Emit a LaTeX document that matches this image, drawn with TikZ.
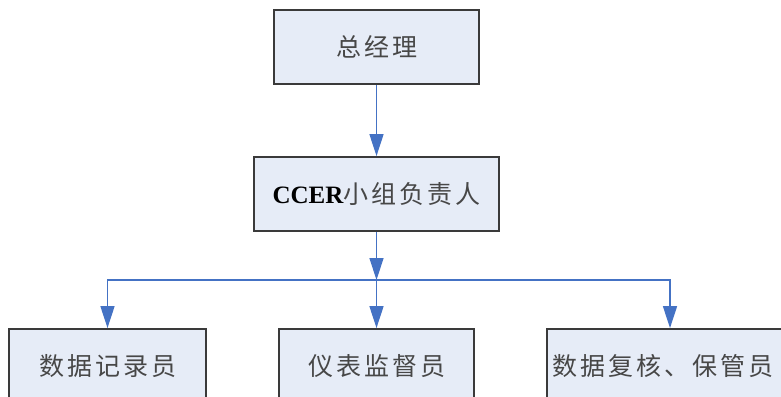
\documentclass[tikz,border=0pt]{standalone}
\usepackage{fontspec}
\newfontfamily\cjk[LetterSpace=12]{Noto Sans CJK SC}
\newfontfamily\lser{Liberation Serif}
\usetikzlibrary{arrows.meta}
\definecolor{boxfill}{HTML}{E6ECF7}
\definecolor{arrowblue}{HTML}{4472C4}
\definecolor{boxline}{HTML}{3A3A3A}
\begin{document}
\begin{tikzpicture}[x=1pt,y=-1pt,
  box/.style={draw=boxline, line width=1.8pt, fill=boxfill, inner sep=0pt,
    minimum height=74pt, font=\cjk\fontsize{25}{30}\selectfont, text=black!72},
  conn/.style={draw=arrowblue, line width=1.4pt,
    -{Triangle[length=22pt,width=14pt]}}]
\useasboundingbox (0,0) rectangle (781,396);
\clip (0,0) rectangle (781,396);
\node[box, minimum width=205pt] (gm) at (376.5,47) {总经理};
\node[box, minimum width=245pt] (lead) at (376.5,194) {{\lser\bfseries\color{black}CCER}小组负责人};
\node[box, minimum width=197pt] (b1) at (107.5,366) {数据记录员};
\node[box, minimum width=195pt] (b2) at (376.5,366) {仪表监督员};
\node[box, minimum width=246pt, text width=236pt, align=left] (b3) at (670,366) {数据复核、保管员};
\coordinate (bar) at (376.5,280);
\draw[conn] (gm.south) -- (lead.north);
\draw[conn] (lead.south) -- (bar);
\draw[conn] (bar) -| (b1.north);
\draw[conn] (bar) -- (b2.north);
\draw[conn] (bar) -| (b3.north);
\end{tikzpicture}
\end{document}
